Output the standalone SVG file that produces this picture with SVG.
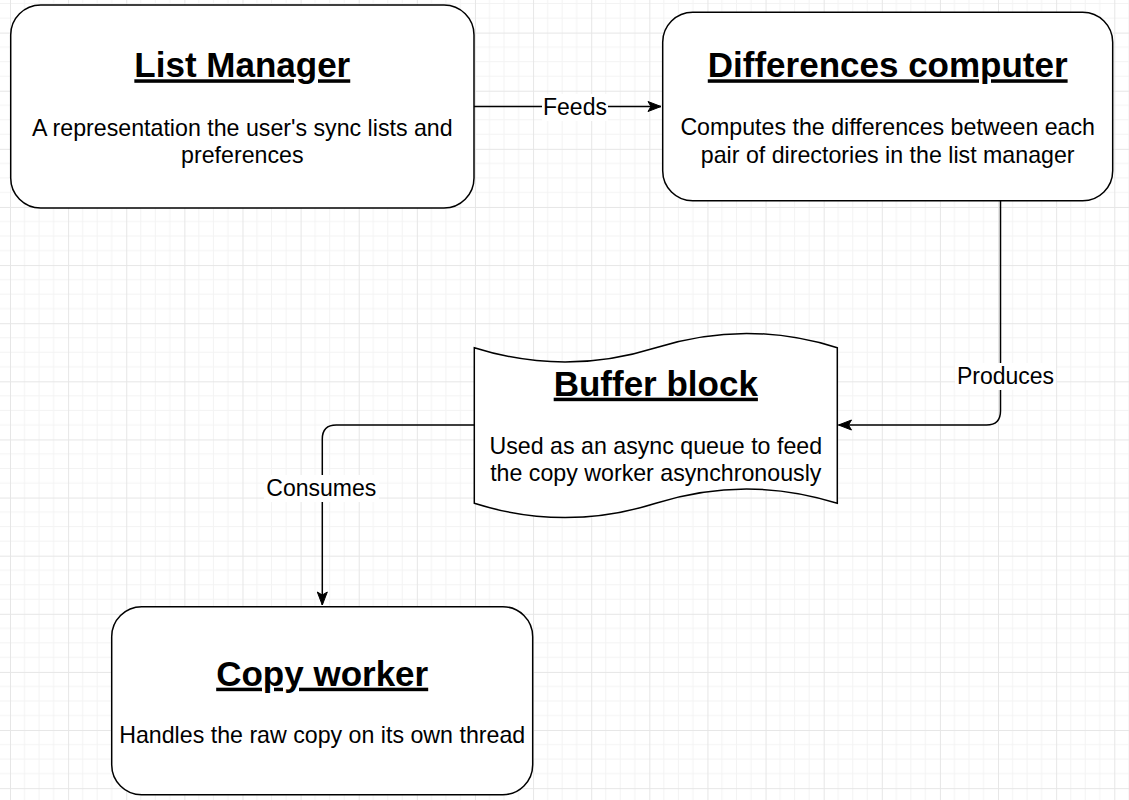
<svg xmlns="http://www.w3.org/2000/svg" width="1129" height="800" viewBox="0 0 1129 800">
<style>
.box{fill:#fff;stroke:#000;stroke-width:1.5}
.title{font-family:"Liberation Sans",Arial,sans-serif;font-size:35px;font-weight:bold;text-decoration:underline;text-anchor:middle;fill:#000}
.body{font-family:"Liberation Sans",Arial,sans-serif;font-size:23.2px;text-anchor:middle;fill:#000}
.lbl{font-family:"Liberation Sans",Arial,sans-serif;font-size:23px;text-anchor:middle;fill:#000}
.edge{fill:none;stroke:#000;stroke-width:1.5}
.lblbg{fill:#fff}
</style>
<defs>
<pattern id="grid" patternUnits="userSpaceOnUse" x="10" y="32.6" width="58.12" height="58.12">
<path d="M14.53,0V58.12M29.06,0V58.12M43.59,0V58.12M0,14.53H58.12M0,29.06H58.12M0,43.59H58.12" stroke="#f3f3f3" stroke-width="1" fill="none"/>
<path d="M0.5,0V58.12M0,0.5H58.12" stroke="#e6e6e6" stroke-width="1" fill="none"/>
</pattern>
<marker id="arr" markerUnits="userSpaceOnUse" markerWidth="16" markerHeight="12" viewBox="0 -6 14 12" refX="13" refY="0" orient="auto">
<path d="M0,-5 L13,0 L0,5 L3,0 Z" fill="#000" stroke="#000" stroke-width="1"/>
</marker>
</defs>
<rect width="1129" height="800" fill="#fff"/>
<rect width="1129" height="800" fill="url(#grid)"/>

<g id="connectors">
<path class="edge" d="M474,106.5 H661" marker-end="url(#arr)"/>
<rect class="lblbg" x="542" y="94" width="66" height="27"/>
<text class="lbl" x="575" y="115">Feeds</text>

<path class="edge" d="M1000.5,200.7 V411 Q1000.5,425 986.5,425 H838.5" marker-end="url(#arr)"/>
<rect class="lblbg" x="955" y="363" width="101" height="27"/>
<text class="lbl" x="1005.5" y="384.3">Produces</text>

<path class="edge" d="M474.3,425 H336.3 Q322.3,425 322.3,439 V605" marker-end="url(#arr)"/>
<rect class="lblbg" x="264" y="475" width="115" height="27"/>
<text class="lbl" x="321.3" y="496">Consumes</text>
</g>

<g id="list-manager">
<rect class="box" x="10.7" y="5" width="463.3" height="203" rx="30" ry="30"/>
<text class="title" x="242.3" y="77.3">List Manager</text>
<text class="body" x="242.3" y="135.5">A representation the user's sync lists and</text>
<text class="body" x="242.3" y="162.5">preferences</text>
</g>

<g id="differences-computer">
<rect class="box" x="662.7" y="12.3" width="450" height="188.4" rx="30" ry="30"/>
<text class="title" x="887.7" y="77.3">Differences computer</text>
<text class="body" x="887.7" y="135.3">Computes the differences between each</text>
<text class="body" x="887.7" y="162.5">pair of directories in the list manager</text>
</g>

<g id="buffer-block">
<path class="box" d="M474.3,347.7 Q565,376.3 655.8,347.7 Q746.5,319.1 837.3,347.7 L837.3,503.3 Q746.5,474.7 655.8,503.3 Q565,531.9 474.3,503.3 Z"/>
<text class="title" x="655.8" y="395.7">Buffer block</text>
<text class="body" x="655.8" y="454">Used as an async queue to feed</text>
<text class="body" x="655.8" y="481.2">the copy worker asynchronously</text>
</g>

<g id="copy-worker">
<rect class="box" x="111.7" y="606.7" width="421" height="188" rx="30" ry="30"/>
<text class="title" x="322.2" y="685.7">Copy worker</text>
<text class="body" x="322.2" y="743.3">Handles the raw copy on its own thread</text>
</g>
</svg>
